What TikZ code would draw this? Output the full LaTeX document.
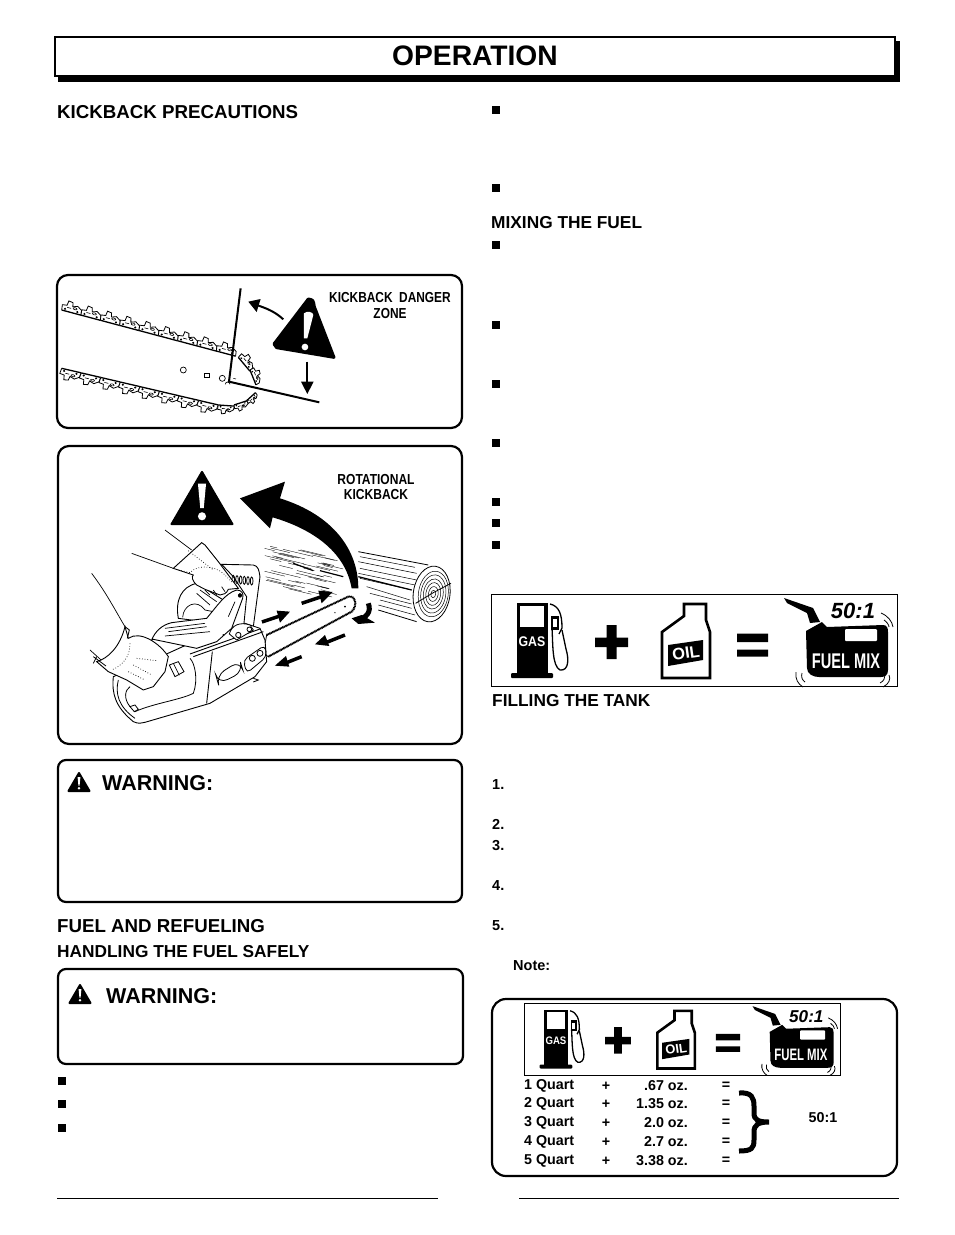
\documentclass[tikz,border=0pt]{standalone}
\usepackage{fontspec}
\usepackage{graphicx}
\setmainfont{Liberation Sans}
\usetikzlibrary{calc,arrows.meta,decorations.pathmorphing}
\newcommand{\pxfont}[1]{\bfseries\fontsize{#1}{#1}\selectfont}
\tikzset{
  x=1pt,y=-1pt,
  panel/.style={draw=black,line width=2.2pt,rounded corners=11pt,fill=white},
  mixbox/.style={draw=black,line width=1pt,fill=white},
  heading/.style={font=\pxfont{18.7},anchor=west,inner sep=0pt},
  subheading/.style={font=\pxfont{17.3},anchor=west,inner sep=0pt},
  warntext/.style={font=\pxfont{21.5},anchor=west,inner sep=0pt},
  itemno/.style={font=\pxfont{14.5},anchor=west,inner sep=0pt},
  tabtext/.style={font=\pxfont{14.3},inner sep=0pt},
  signtext/.style={font=\pxfont{14.5},inner sep=0pt,align=center},
  sqbullet/.pic={\fill (-4,-4) rectangle (4,4);},
  warntri/.pic={
    \fill[black,draw=black,line width=2pt,line join=round] (0,-9) -- (10.5,9) -- (-10.5,9) -- cycle;
    \fill[white] (-1.4,-5) -- (1.4,-5) -- (.6,3.5) -- (-.6,3.5) -- cycle;
    \fill[white] (0,6.3) circle (1.4);
  },
  chainlink/.pic={
    \draw[line width=.8pt,fill=white] (0,0) -- (-2,-16) -- (12,-18) -- (14,-32) -- (27,-30) -- (30,-18) -- (44,-23) -- (58,-14) -- (60,0);
    \draw[line width=1.3pt] (0,0) -- (60,0);
    \draw[line width=.6pt] (38,-14) ellipse (6 and 3) (14,-12) -- (26,-12);
    \fill (9,-6) circle (3.5) (47,-6) circle (3.5);
  },
  mixsign/.pic={
    % pump
    \fill (25.7,9) rectangle (57,79);
    \fill[rounded corners=1pt] (20,79) rectangle (62,84);
    \fill[white] (29,12) rectangle (53,33);
    \node[font=\pxfont{14},white,inner sep=0pt,transform shape] (gaslabel) at (41,48) {\scalebox{.88}[1]{GAS}};
    \draw[line width=1.3pt] (59,10) .. controls (68,12) and (71,20) .. (71,34) -- (68,40);
    \draw[line width=1.3pt] (61,34) .. controls (62,50) and (61,72) .. (69,76)
       .. controls (78,77) and (78,65) .. (75,55) -- (71,36);
    \fill (60,22) rectangle (68,36);
    \fill[white] (62,25) rectangle (66,33);
    % plus
    \fill (104,43.5) rectangle (137,53) (115.5,31) rectangle (125.5,65);
    % oil
    \draw[line width=2.6pt,line join=miter] (193,10) -- (215,10) -- (215,26) -- (219,38) -- (219,84)
       -- (171,84) -- (171,38) -- (193,22) -- cycle;
    \fill (177,51) -- (212,46) -- (212,66) -- (177,72) -- cycle;
    \node[font=\pxfont{16.5},white,inner sep=0pt,rotate=8,transform shape] (oillabel) at (195,59) {OIL};
    % equals
    \fill (246,39.5) rectangle (277,48) (246,55.5) rectangle (277,62.5);
    % can
    \fill (293,4) -- (296,9) -- (316,19) -- (319,29) -- (329,28) -- (322,14) -- cycle;
    \fill (315,37) -- (331,28) -- (336,33) -- (392,31) .. controls (396,31) and (397,34) .. (397,38)
       -- (397,76) .. controls (397,81) and (394,83) .. (390,83) -- (328,83)
       .. controls (322,83) and (316,80) .. (316,74) -- cycle;
    \fill[white,rounded corners=1pt] (354,35) rectangle (386,47);
    \node[font=\pxfont{17},white,inner sep=0pt,transform shape] (mixlabel) at (355,67) {\scalebox{.86}[1.25]{FUEL MIX}};
    \node[font=\bfseries\itshape\fontsize{22}{22}\selectfont,inner sep=0pt,transform shape] (ratiolabel) at (362,17) {50:1};
    \draw[line width=.8pt] (390,19) .. controls (397,22) and (401,27) .. (402,33)
       (393,26) .. controls (396,28) and (398,31) .. (398,33);
    \draw[line width=.8pt] (305,78) .. controls (304,85) and (307,90) .. (312,93)
       (311,79) .. controls (310,83) and (311,86) .. (314,88);
    \draw[line width=.8pt] (398,81) .. controls (400,85) and (398,90) .. (392,93)
       (394,81) .. controls (394,84) and (393,87) .. (389,89);
  }
}
\begin{document}
\begin{tikzpicture}
\useasboundingbox (0,0) rectangle (954,1235);
\pgfmathsetseed{17}
%title bar
\fill (58,41) rectangle (900,82);
\draw[line width=2pt,fill=white] (55,37) rectangle (895,76);
\node[font=\pxfont{28.2},inner sep=0pt] (opertitle) at (475,56) {OPERATION};
%left column headings
\node[heading] (kickhead) at (57,111.7) {KICKBACK PRECAUTIONS};
\node[heading] (fuelhead) at (57,925.7) {FUEL AND REFUELING};
\node[subheading] (safehead) at (57,951.7) {HANDLING THE FUEL SAFELY};
\node[subheading] (mixhead) at (491,222.7) {MIXING THE FUEL};
\node[subheading] (tankhead) at (492,700.7) {FILLING THE TANK};
%bullets
\foreach \y in {110,188,245,325,384,443,502,523,545} \pic at (496,\y) {sqbullet};
\foreach \y in {1081,1104,1128} \pic at (62,\y) {sqbullet};
%numbered steps
\node[itemno] (stepone) at (492,784.5) {1.};
\node[itemno] (steptwo) at (492,824.5) {2.};
\node[itemno] (stepthree) at (492,845.5) {3.};
\node[itemno] (stepfour) at (492,885.5) {4.};
\node[itemno] (stepfive) at (492,925.5) {5.};
\node[itemno] (notelabel) at (513,965.5) {Note:};
%panels
\draw[panel] (57,275) rectangle (462,428);
\draw[panel] (58,446) rectangle (462,744);
\draw[panel,rounded corners=8pt] (58,760) rectangle (462,902);
\draw[panel,rounded corners=8pt] (58,969) rectangle (463,1064);
\draw[panel,rounded corners=14pt] (492,999) rectangle (897,1176);
%warnings
\pic at (79,782) {warntri};
\node[warntext] (warnone) at (102,782.7) {WARNING:};
\pic at (80,994) {warntri};
\node[warntext] (warntwo) at (106,995.7) {WARNING:};
%danger zone picture
\begin{scope}[shift={(50,270)},x=.3333pt,y=-.3333pt]
\foreach \t in {0,...,8} \pic[rotate=-15] at ($(35,120)!\t/8.45!(525,250)$) {chainlink};
\foreach \t in {0,...,7} \pic[rotate=-13,yscale=-1] at ($(35,295)!\t/8!(505,405)$) {chainlink};
\pic[rotate=-4,yscale=-1,scale=.8] at (505,405) {chainlink};
\pic[rotate=18,yscale=-1,scale=.7] at (552,405) {chainlink};
\pic[rotate=42,yscale=-1,scale=.6] at (590,392) {chainlink};
\pic[rotate=-50,scale=.9] at (565,262) {chainlink};
\pic[rotate=-68,scale=.8] at (600,300) {chainlink};
\draw[line width=.7pt] (400,300) circle (9) (517,325) circle (9);
\draw[line width=.7pt] (464,310) rectangle (477,322);
\draw[line width=.7pt] (526,343) arc (180:360:7);
\draw[line width=.6pt] (550,325) -- (558,327);
\draw[line width=2pt,line join=miter] (572,55) -- (537,335) -- (808,397);
\fill[line join=round,draw=black,line width=3pt] (775,87) .. controls (790,90) .. (793,110) -- (852,262) -- (680,233) -- (672,222) -- cycle;
\fill[white] (762,130) .. controls (770,122) and (790,125) .. (790,135) -- (772,205) -- (762,205) -- cycle;
\fill[white] (765,231) circle (10);
\draw[line width=2pt] (700,148) .. controls (675,125) and (650,115) .. (620,105);
\fill (595,95) -- (632,87) -- (620,126) -- cycle;
\draw[line width=2pt] (772,275) -- (772,340);
\fill (753,335) -- (791,335) -- (772,372) -- cycle;
\end{scope}
\node[signtext] (dangerlabel) at (390,305.5) {\scalebox{.82}[1]{KICKBACK\ \ DANGER}\\[1.2pt]\scalebox{.82}[1]{ZONE}};
%rotational kickback picture
\begin{scope}[shift={(50,440)},x=.3333pt,y=-.3333pt]
%log
\draw[line width=.8pt] (925,335) -- (1135,375) (985,510) -- (1100,545);
\foreach \a/\b/\c/\d in {930/350/1095/382,925/365/1100/400,930/385/1100/420,925/400/1095/435,930/415/1085/450,950/440/1080/480,960/460/1085/492,990/480/1085/505,985/495/1095/525}
  \draw[line width=.5pt] (\a,\b) -- (\c,\d);
\draw[line width=1.2pt] (925,410) -- (1085,450);
\draw[line width=.8pt,fill=white,rotate around={-8:(1145,462)}] (1145,462) ellipse (55 and 84);
\foreach \r in {.86,.72,.57,.43,.28,.14} \draw[line width=.5pt,rotate around={-8:(1150,462)}] (1150,462) ellipse ({52*\r} and {80*\r});
\draw[line width=.8pt] (1097,490) -- (1150,458) -- (1203,430);
%speed lines
\foreach \n in {1,...,48}{
  \pgfmathsetmacro{\xa}{640+190*rnd}
  \pgfmathsetmacro{\ya}{310+(\xa-640)*.15+125*rnd}
  \pgfmathsetmacro{\la}{20+70*rnd}
  \draw[line width=.35pt] (\xa,\ya) -- ++(\la,{.24*\la});
}
\draw[line width=1.2pt] (730,370) -- (790,392) (810,392) -- (880,410);
%big arrow
\fill (925,445) .. controls (925,330) and (850,225) .. (690,175) -- (705,125) -- (570,175) -- (660,265) -- (668,232)
  .. controls (780,265) and (885,330) .. (905,445) -- cycle;
%bar
\draw[line width=.8pt,fill=white] (650,585) -- (895,470) .. controls (915,465) and (925,495) .. (905,515) -- (655,650) -- (640,640) -- cycle;
\draw[line width=2.2pt,dash pattern=on .9pt off .7pt] (650,585) -- (895,470) .. controls (915,465) and (925,495) .. (905,515) -- (655,650);
\fill (855,518) circle (2) (885,500) circle (3);
%small arrows
\foreach \a/\b/\c/\d in {636/546/690/528,755/490/815/470,885/585/830/607,755/650/700/672}
  \draw[line width=3.5pt] (\a,\b) -- (\c,\d);
\fill (720,515) -- (680,512) -- (690,548) -- cycle;
\fill (848,456) -- (805,452) -- (815,490) -- cycle;
\fill (795,613) -- (838,618) -- (825,585) -- cycle;
\fill (675,677) -- (718,680) -- (708,648) -- cycle;
\draw[line width=5pt] (955,490) .. controls (965,515) and (950,535) .. (920,540);
\fill (905,535) -- (935,525) -- (975,548) -- (925,552) -- cycle;
\end{scope}
%chain saw
\begin{scope}[shift={(90,530)},x=.3333pt,y=-.3333pt]
\draw[line width=.7pt] (225,0) -- (305,60) (125,70) -- (250,115);
\draw[line width=.7pt] (5,130) .. controls (50,190) and (75,240) .. (105,290) (0,360) -- (50,405);
%rear guard
\draw[line width=.9pt,fill=white] (395,103) -- (490,105) .. controls (505,108) and (507,120) .. (510,140) -- (490,290) -- (475,295) -- (462,280) -- (470,200) -- (430,140) -- cycle;
\foreach \n in {0,...,5} \draw[line width=.8pt] ({430+\n*11},{148+\n*1}) ellipse (4 and 12);
%hood
\draw[line width=.9pt,fill=white] (265,265) .. controls (255,210) and (275,170) .. (320,160) -- (400,210) -- (380,280) -- cycle;
\draw[line width=.7pt] (278,262) .. controls (280,225) and (320,205) .. (345,240) -- (370,245);
\draw[line width=.7pt] (320,190) -- (360,225) (330,180) -- (380,215);
%body
\draw[line width=.9pt,fill=white] (70,440) .. controls (65,490) and (75,530) .. (130,575) .. controls (145,582) and (155,580) .. (165,577) -- (360,520) -- (495,440) -- (530,395) -- (525,330) -- (510,295) -- (465,280) -- (300,340) -- (190,390) -- cycle;
\draw[line width=.9pt] (300,372) -- (510,297) (310,380) -- (520,305) (367,365) -- (350,520);
\draw[line width=.8pt] (85,450) .. controls (75,490) and (85,530) .. (135,565);
\draw[line width=.8pt] (120,530) .. controls (100,505) and (105,480) .. (120,470);
\draw[line width=.8pt] (135,545) .. controls (190,520) and (270,510) .. (310,490) .. controls (325,450) and (315,400) .. (300,385);
\draw[line width=.8pt,fill=white] (120,530) -- (135,525) -- (145,538) -- (133,545) -- cycle;
\draw[line width=.8pt,rounded corners=10pt] (378,437) -- (450,392) -- (460,425) -- (385,462) -- cycle;
\draw[line width=.8pt,rounded corners=5pt] (460,390) -- (525,345) -- (530,380) -- (470,430) -- cycle;
\draw[line width=.8pt] (487,385) circle (9) (510,370) circle (9);
\draw[line width=.8pt] (490,445) -- (505,450) -- (490,456);
%top handle
\draw[line width=.9pt,fill=white] (185,330) .. controls (195,305) and (215,285) .. (245,278) -- (350,265) .. controls (380,230) and (405,190) .. (440,180) .. controls (455,180) and (462,190) .. (458,205) -- (425,295) -- (380,335) -- (320,355) -- (190,328) -- cycle;
\draw[line width=.7pt] (225,295) -- (345,280) (235,305) -- (350,290) (225,318) -- (360,305);
\draw[line width=.7pt] (400,315) circle (1.5) (435,215) -- (415,260) (450,195) circle (5);
\fill (450,197) circle (6);
%boss
\draw[line width=.8pt,fill=white] (418,312) .. controls (425,285) and (450,275) .. (480,285) -- (490,300) -- (440,330) -- cycle;
\draw[line width=.8pt] (445,315) circle (8) (478,298) circle (7);
%upper hand
\draw[line width=.9pt,fill=white] (250,115) -- (335,38) -- (345,45) -- (385,95) -- (445,175) -- (415,178) .. controls (410,190) and (400,195) .. (390,195) -- (345,178) -- (320,165) .. controls (305,150) and (305,140) .. (310,135) -- cycle;
\draw[line width=.7pt,dotted] (258,118) -- (300,128) .. controls (320,105) and (370,105) .. (400,130) -- (430,160) (295,62) -- (370,120);
\draw[line width=.7pt] (345,180) -- (360,195) (370,180) -- (380,195) (395,170) -- (405,185);
%lower hand
\draw[line width=.9pt,fill=white] (20,395) .. controls (55,385) and (90,350) .. (105,290) -- (115,325) .. controls (150,300) and (210,340) .. (235,380) -- (225,425) -- (190,470) -- (160,480) -- (110,450) -- (55,425) -- cycle;
\draw[line width=.9pt] (105,290) -- (118,300) -- (112,325);
\draw[line width=.7pt,dotted] (140,385) -- (200,392) (130,405) -- (185,435) (115,425) -- (165,450) (120,340) .. controls (120,380) and (100,405) .. (65,420);
\draw[line width=.8pt] (10,380) -- (48,408) (10,400) -- (20,380);
\draw[line width=.8pt,fill=white] (238,405) -- (265,395) -- (282,425) -- (255,440) -- cycle;
\draw[line width=.7pt] (250,400) -- (268,436);
\end{scope}
\node[signtext] (rotlabel) at (376,487) {\scalebox{.83}[1]{ROTATIONAL}\\[1pt]\scalebox{.83}[1]{KICKBACK}};
%warning triangle on rotation picture
\pic[scale=2.9] at (202,498) {warntri};
%fuel mix signs
\draw[mixbox] (491,594) rectangle (897,686);
\pic at (491,594) {mixsign};
\draw[mixbox,line width=.8pt] (524,1003) rectangle (840,1075);
\pic[scale=.78] at (524,1003) {mixsign};
%mix table
\foreach \y/\q/\o [count=\n] in {1085/1/.67,1103/2/1.35,1122/3/2.0,1141/4/2.7,1160/5/3.38}{
  \node[tabtext,anchor=west] (quart\n) at (524,\y+.7) {\q\ Quart};
  \node[tabtext] (plus\n) at (606,\y+1) {+};
  \node[tabtext,anchor=east] (ounce\n) at (688,\y+.7) {\o\ oz.};
  \node[tabtext] (equals\n) at (726,\y+1) {=};
}
\draw[line width=5pt] (739,1093) .. controls (752,1092) and (754,1098) .. (754,1106) -- (754,1113)
  .. controls (754,1120) and (758,1122) .. (769,1122) .. controls (758,1122) and (754,1125) .. (754,1132) -- (754,1140)
  .. controls (754,1148) and (752,1151) .. (739,1151);
\node[tabtext] (rationote) at (823,1118) {50:1};
%footer rules
\draw[line width=.8pt] (57,1198) -- (438,1198) (519,1198) -- (899,1198);
\end{tikzpicture}
\end{document}
